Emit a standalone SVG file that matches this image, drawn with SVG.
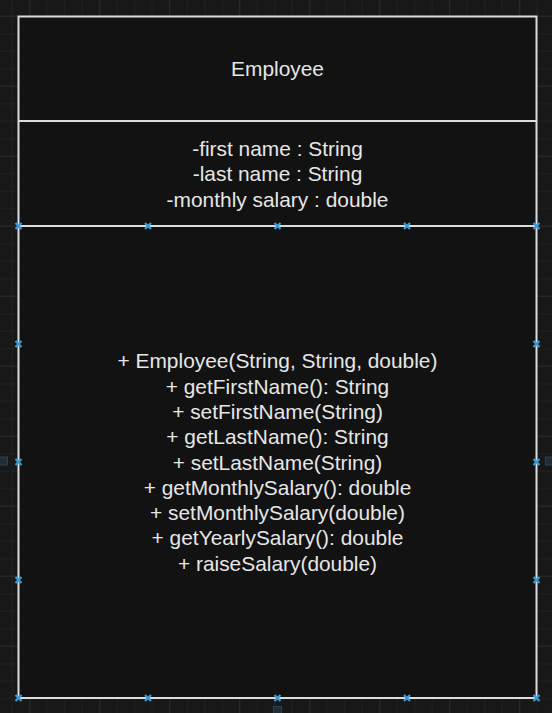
<svg xmlns="http://www.w3.org/2000/svg" width="552" height="713" viewBox="0 0 552 713">
  <style>
    .lbl { font-family: "Liberation Sans", Arial, sans-serif; font-size: 20.9px; fill: #e6e6e6; text-anchor: middle; }
    .frame { fill: #121212; stroke: #dcdcdc; stroke-width: 2; }
    .div { stroke: #dcdcdc; stroke-width: 2; }
    .hov { fill: #1e2d38; stroke: #2d4150; stroke-width: 1; }
  </style>
  <defs>
    <pattern id="grid" patternUnits="userSpaceOnUse" x="29.3" y="15.7" width="70" height="70">
      <rect width="70" height="70" fill="#181818"/>
      <g fill="#222222">
        <rect x="17.5" y="0" width="1" height="70"/>
        <rect x="35" y="0" width="1" height="70"/>
        <rect x="52.5" y="0" width="1" height="70"/>
        <rect x="0" y="17.5" width="70" height="1"/>
        <rect x="0" y="35" width="70" height="1"/>
        <rect x="0" y="52.5" width="70" height="1"/>
      </g>
      <g fill="#2e2e2e">
        <rect x="0" y="0" width="1" height="70"/>
        <rect x="0" y="0" width="70" height="1"/>
      </g>
    </pattern>
    <g id="hd">
      <path d="M-3,-3 L3,3 M-3,3 L3,-3" stroke="#3a9ad9" stroke-width="2.2"/>
      <rect x="-1.5" y="-1.5" width="3" height="3" fill="#3a9ad9"/>
    </g>
  </defs>

  <rect width="552" height="713" fill="url(#grid)"/>

  <g id="employee-class">
    <rect class="frame" x="18.5" y="16.5" width="518" height="681.5"/>
    <line class="div" x1="18.5" y1="121" x2="536.5" y2="121"/>
    <line class="div" x1="18.5" y1="226" x2="536.5" y2="226"/>
    <g id="class-name">
      <text class="lbl" x="277.5" y="76">Employee</text>
    </g>
    <g id="attributes">
      <text class="lbl" x="277.5" y="156">-first name : String</text>
      <text class="lbl" x="277.5" y="181">-last name : String</text>
      <text class="lbl" x="277.5" y="206.5">-monthly salary : double</text>
    </g>
    <g id="methods">
      <text class="lbl" x="277.5" y="368.3">+ Employee(String, String, double)</text>
      <text class="lbl" x="277.5" y="393.6">+ getFirstName(): String</text>
      <text class="lbl" x="277.5" y="418.9">+ setFirstName(String)</text>
      <text class="lbl" x="277.5" y="444.2">+ getLastName(): String</text>
      <text class="lbl" x="277.5" y="469.5">+ setLastName(String)</text>
      <text class="lbl" x="277.5" y="494.8">+ getMonthlySalary(): double</text>
      <text class="lbl" x="277.5" y="520.1">+ setMonthlySalary(double)</text>
      <text class="lbl" x="277.5" y="545.4">+ getYearlySalary(): double</text>
      <text class="lbl" x="277.5" y="570.7">+ raiseSalary(double)</text>
    </g>
  </g>

  <g id="connectors"></g>

  <g id="selection-handles">
    <use href="#hd" x="18.5" y="226"/>
    <use href="#hd" x="148" y="226"/>
    <use href="#hd" x="277.5" y="226"/>
    <use href="#hd" x="407" y="226"/>
    <use href="#hd" x="536.5" y="226"/>
    <use href="#hd" x="18.5" y="344"/>
    <use href="#hd" x="536.5" y="344"/>
    <use href="#hd" x="18.5" y="462"/>
    <use href="#hd" x="536.5" y="462"/>
    <use href="#hd" x="18.5" y="580"/>
    <use href="#hd" x="536.5" y="580"/>
    <use href="#hd" x="18.5" y="698"/>
    <use href="#hd" x="148" y="698"/>
    <use href="#hd" x="277.5" y="698"/>
    <use href="#hd" x="407" y="698"/>
    <use href="#hd" x="536.5" y="698"/>
    <rect class="hov" x="-1.5" y="457" width="9" height="8"/>
    <rect class="hov" x="545.5" y="457" width="9" height="8"/>
    <rect class="hov" x="273.5" y="706.5" width="8" height="9"/>
  </g>
</svg>
